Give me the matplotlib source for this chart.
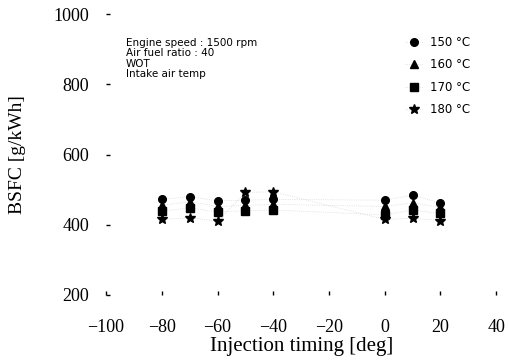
import matplotlib
matplotlib.use("Agg")
import matplotlib.pyplot as plt

# Data
timing = [-80, -70, -60, -50, -40, 0, 10, 20]
bsfc_150 = [472, 480, 468, 470, 472, 470, 484, 462]
bsfc_160 = [455, 466, 452, 455, 458, 452, 462, 450]
bsfc_170 = [438, 448, 436, 440, 442, 428, 442, 432]
bsfc_180 = [415, 420, 410, 492, 494, 415, 418, 412]
series_labels = ["150 \u00b0C", "160 \u00b0C", "170 \u00b0C", "180 \u00b0C"]
x_ticks = [-100, -80, -60, -40, -20, 0, 20, 40]
y_ticks = [200, 400, 600, 800, 1000]
notes = ["Engine speed : 1500 rpm", "Air fuel ratio : 40", "WOT", "Intake air temp"]

fig = plt.figure(figsize=(5.10, 3.61), dpi=100)
ax = fig.add_axes([0.208, 0.183, 0.765, 0.778])

markers = ["o", "^", "s", "*"]
sizes = [5.5, 5.5, 5.5, 7.5]
for vals, lab, m, s in zip([bsfc_150, bsfc_160, bsfc_170, bsfc_180], series_labels, markers, sizes):
    ax.plot(timing, vals, linestyle=":", linewidth=0.5, color="#d0d0d0",
            marker=m, markersize=s, markerfacecolor="black", markeredgecolor="black",
            label=lab)

ax.set_xlim(-100, 40)
ax.set_ylim(200, 1000)
ax.set_xticks(x_ticks)
ax.set_yticks(y_ticks)
for sp in ax.spines.values():
    sp.set_visible(False)
ax.tick_params(axis="both", direction="in", length=3, width=1, color="black",
               labelsize=13)
ax.tick_params(axis="x", pad=17)
ax.tick_params(axis="y", pad=12)
for t in ax.get_xticklabels() + ax.get_yticklabels():
    t.set_fontfamily("Liberation Serif")

ax.set_xlabel("Injection timing [deg]", fontsize=15, family="Liberation Serif", labelpad=1)
ax.set_ylabel("BSFC [g/kWh]", fontsize=14, family="Liberation Serif", labelpad=20)

ax.text(0.05, 0.915, "\n".join(notes), transform=ax.transAxes, fontsize=7.5,
        family="DejaVu Sans", va="top", ha="left", linespacing=1.05)

leg = ax.legend(loc="upper right", bbox_to_anchor=(0.96, 0.96), frameon=False,
                labelspacing=0.8, handlelength=1.5, handletextpad=0.6,
                prop={"family": "DejaVu Sans", "size": 8.5})

fig.savefig("out.png", dpi=100)
